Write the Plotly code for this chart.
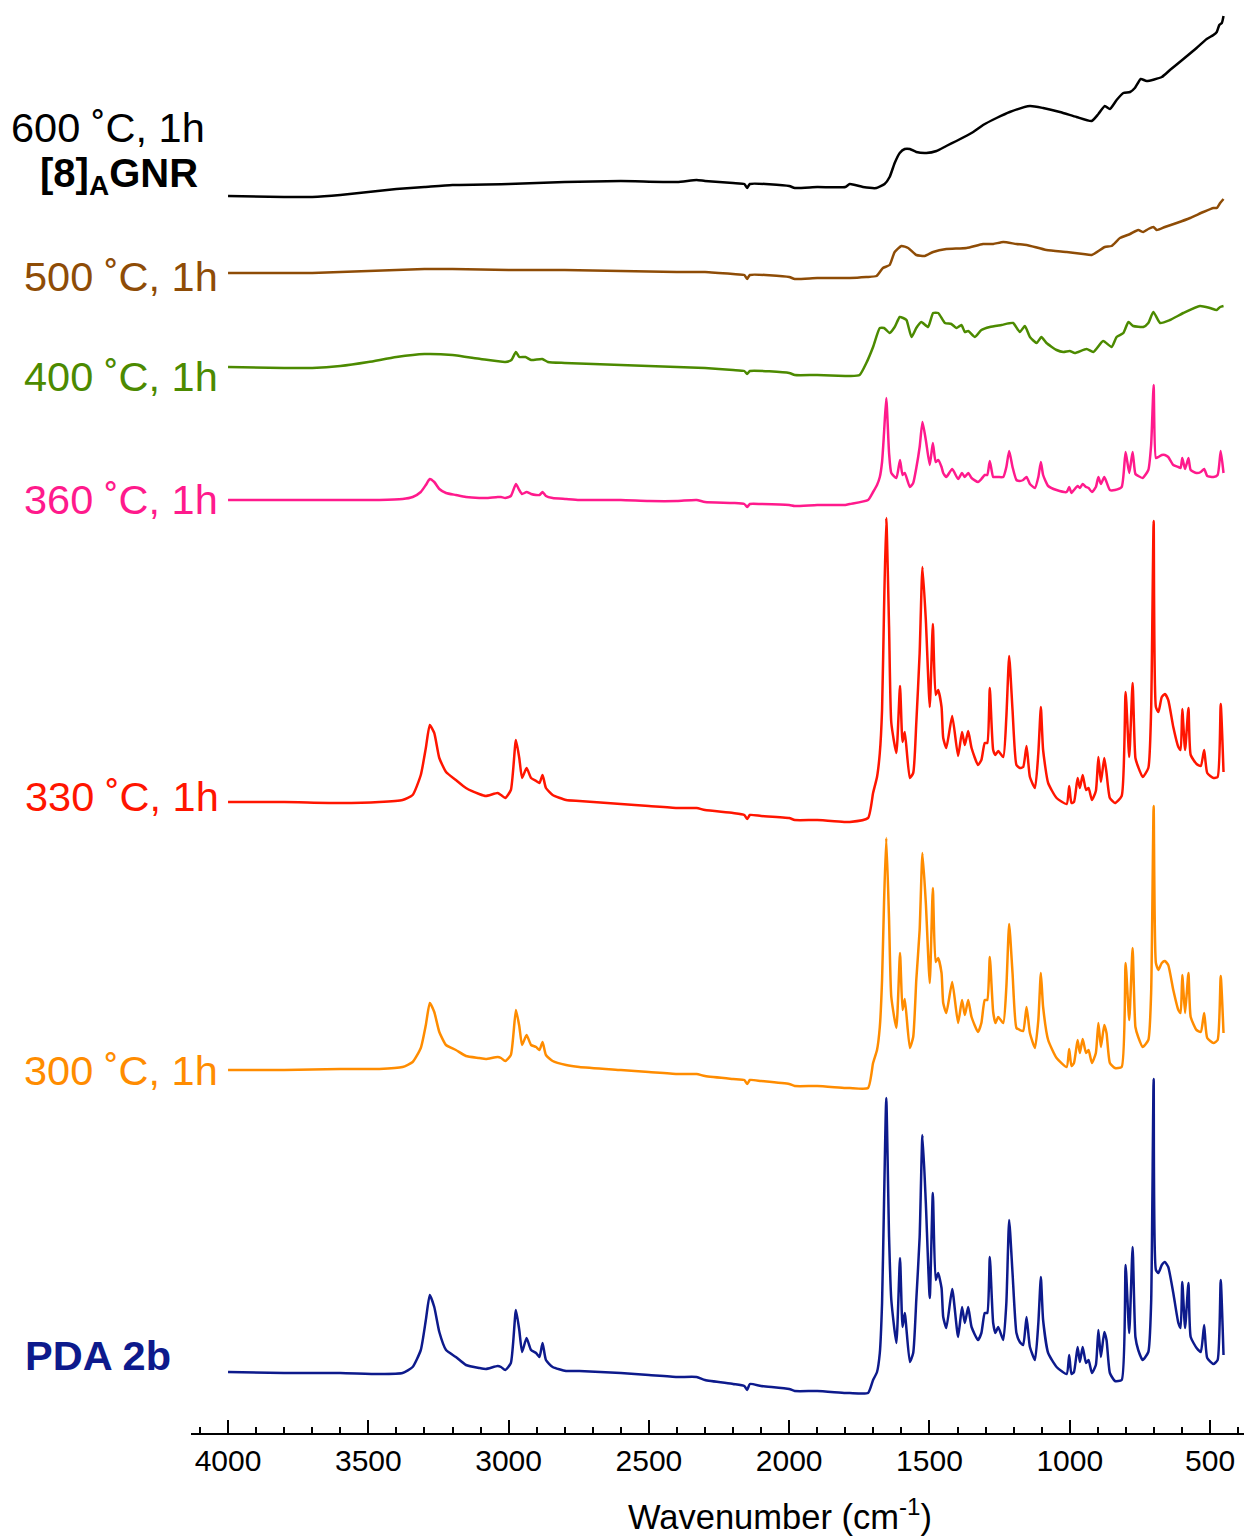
import plotly.graph_objects as go

# ---- shared wavenumber grid (cm-1) for the as-made and 300-360 C spectra ----
WN_SHARP = [4000, 3800, 3600, 3461, 3378, 3342, 3313, 3295, 3281, 3265,
            3247, 3223, 3188, 3152, 3105, 3081, 3039, 3027, 3012, 2992,
            2974, 2962, 2952, 2936, 2920, 2902, 2890, 2879, 2867, 2843,
            2795, 2748, 2600, 2500, 2400, 2330, 2300, 2200, 2160, 2150,
            2140, 2100, 2000, 1980, 1900, 1800,
            1784, 1719, 1701, 1687, 1677, 1669, 1662, 1654, 1644, 1636,
            1618, 1605, 1596, 1588, 1570, 1558, 1547, 1535, 1525, 1513,
            1499, 1488, 1478, 1469, 1457, 1451, 1440, 1419, 1398, 1384,
            1374, 1362, 1350, 1327, 1315, 1303, 1294, 1285, 1273, 1265,
            1255, 1237, 1226, 1216, 1204, 1190, 1178, 1166, 1154, 1142,
            1124, 1112, 1103, 1095, 1077, 1047, 1011, 1002, 994, 985,
            972, 964, 954, 942, 933, 921, 907, 898, 889, 877,
            869, 857, 839, 815, 801, 788, 776, 766, 756, 740,
            720, 710, 701, 693, 684, 672, 661, 649, 631, 613,
            605, 599, 589, 577, 569, 548, 533, 521, 510, 488,
            473, 462, 452]

# intensities (arb. units) on WN_SHARP
INT_PDA = [0, -1, -1, -2, -1, 5, 22, 52, 77, 65,
           40, 22, 15, 7, 4, 3, 6, 5, 2, 9,
           62, 42, 20, 34, 22, 19, 15, 29, 12, 5,
           1, 1, -1, -3, -5, -5, -8, -12, -14, -18,
           -12, -14, -17, -19, -19, -21,
           -21, -21, -8, 0, 19, 69, 169, 274, 135, 72,
           29, 114, 45, 59, 10, 19, 72, 135, 237, 169,
           74, 179, 92, 99, 84, 55, 44, 83, 35, 65,
           49, 65, 45, 32, 39, 59, 59, 115, 49, 39,
           45, 32, 69, 152, 99, 39, 30, 27, 55, 25,
           12, 49, 95, 52, 19, 5, -2, 17, -2, 0,
           25, 10, 25, 9, 12, -1, 7, 42, 15, 40,
           32, -1, -9, -8, 107, 39, 125, 35, 22, 12,
           20, 69, 293, 102, 99, 107, 110, 105, 79, 49,
           44, 90, 44, 89, 35, 24, 20, 47, 14, 8,
           12, 92, 17]

INT_300 = [0, 0, 1, 1, 3, 8, 22, 45, 67, 58,
           38, 25, 20, 14, 12, 11, 13, 12, 9, 15,
           60, 44, 25, 35, 25, 23, 20, 28, 15, 9,
           5, 3, 0, -2, -4, -4, -6, -9, -10, -14,
           -10, -11, -14, -16, -16, -18,
           -18, -18, 7, 20, 43, 90, 167, 232, 150, 73,
           42, 117, 60, 71, 22, 33, 90, 140, 217, 167,
           87, 182, 108, 112, 97, 67, 57, 88, 47, 70,
           55, 70, 53, 38, 47, 70, 70, 113, 58, 47,
           53, 47, 83, 146, 97, 42, 40, 39, 63, 37,
           22, 50, 97, 63, 30, 12, 3, 21, 4, 7,
           30, 17, 31, 17, 20, 7, 17, 47, 23, 45,
           37, 7, 2, 3, 107, 50, 122, 43, 33, 23,
           30, 77, 264, 107, 100, 107, 109, 105, 80, 60,
           57, 95, 57, 97, 53, 40, 38, 57, 32, 27,
           30, 94, 37]

INT_330 = [0, 0, -1, 0, 2, 7, 27, 54, 77, 69,
           44, 30, 22, 14, 8, 6, 9, 7, 4, 12,
           62, 44, 24, 34, 24, 21, 19, 27, 14, 7,
           2, 1, -2, -4, -6, -6, -8, -11, -13, -17,
           -13, -14, -16, -18, -18, -20,
           -20, -16, 9, 25, 49, 92, 192, 284, 175, 79,
           49, 116, 60, 70, 24, 29, 79, 149, 235, 182,
           95, 178, 107, 112, 95, 64, 54, 86, 46, 70,
           57, 71, 54, 37, 42, 59, 59, 114, 52, 47,
           51, 45, 85, 146, 92, 37, 34, 35, 56, 25,
           14, 49, 95, 52, 19, 4, -2, 16, -1, 0,
           24, 14, 27, 12, 14, 2, 11, 45, 20, 44,
           29, 4, -1, 6, 110, 45, 119, 44, 35, 25,
           34, 92, 281, 95, 90, 105, 108, 102, 75, 55,
           52, 93, 52, 94, 47, 38, 36, 52, 29, 24,
           25, 98, 30]

INT_360 = [0, 0, 0, 0, 1, 3, 8, 15, 21, 18,
           11, 7, 5, 3, 2, 2, 3, 3, 2, 4,
           16, 10, 6, 8, 6, 5, 5, 8, 4, 2,
           1, 0, 0, -1, -1, 0, -2, -3, -4, -7,
           -4, -4, -5, -6, -5, -5,
           -4, 0, 8, 15, 23, 38, 67, 102, 47, 27,
           22, 40, 25, 27, 13, 17, 32, 53, 78, 60,
           35, 57, 38, 40, 33, 27, 23, 31, 21, 27,
           23, 27, 22, 18, 21, 25, 25, 39, 23, 23,
           23, 23, 33, 49, 33, 20, 19, 20, 23, 16,
           12, 23, 38, 25, 14, 10, 8, 13, 7, 10,
           14, 12, 16, 13, 12, 8, 13, 23, 16, 23,
           18, 10, 10, 13, 48, 27, 48, 26, 24, 22,
           30, 55, 115, 42, 43, 45, 45, 43, 35, 33,
           32, 42, 31, 42, 30, 27, 28, 31, 24, 23,
           25, 49, 27]

# ---- 400 C ----
WN_400 = [4000, 3800, 3700, 3600, 3500, 3400, 3300, 3200, 3100, 3012,
          2990, 2974, 2962, 2940, 2920, 2880, 2860, 2800, 2600, 2400,
          2300, 2200, 2160, 2150, 2140, 2000, 1980, 1900, 1800,
          1784, 1749, 1725, 1701, 1677, 1662, 1642, 1624, 1606, 1594,
          1582, 1564, 1547, 1529, 1505, 1487, 1469, 1445, 1422, 1404,
          1386, 1374, 1362, 1338, 1315, 1285, 1243, 1202, 1178, 1160,
          1142, 1118, 1101, 1083, 1047, 1023, 1000, 982, 940, 916,
          881, 851, 833, 809, 791, 774, 738, 720, 702, 678,
          643, 595, 536, 500, 476, 464, 452]
INT_400 = [0, -1, -1, 1, 5, 10, 13, 12, 8, 5,
           7, 15, 10, 10, 7, 8, 5, 4, 2, 0,
           -1, -3, -4, -7, -4, -6, -8, -8, -9,
           -9, -8, 4, 20, 39, 39, 34, 40, 50, 49,
           47, 30, 39, 45, 40, 54, 54, 44, 43, 39,
           42, 35, 36, 30, 37, 40, 42, 44, 35, 41,
           30, 24, 30, 24, 17, 15, 16, 14, 18, 15,
           26, 20, 30, 34, 45, 41, 40, 44, 55, 44,
           47, 54, 61, 59, 57, 60, 61]

# ---- 500 C ----
WN_500 = [4000, 3800, 3700, 3600, 3500, 3400, 3300, 3200, 3000, 2800,
          2600, 2400, 2300, 2200, 2160, 2150, 2140, 2000, 1980, 1900, 1800,
          1784, 1725, 1689, 1666, 1642, 1624, 1600, 1576, 1547, 1517,
          1487, 1440, 1368, 1309, 1273, 1237, 1190, 1154, 1083, 1011,
          952, 922, 875, 851, 821, 785, 756, 738, 720, 702,
          690, 661, 619, 571, 524, 488, 476, 464, 452]
INT_500 = [0, 0, 0, 1, 2, 3, 4, 4, 3, 3,
           2, 1, 1, -1, -2, -6, -2, -4, -6, -5, -5,
           -5, -4, -3, 5, 8, 21, 27, 25, 18, 17,
           21, 24, 25, 29, 29, 31, 29, 28, 23, 21,
           19, 18, 26, 27, 35, 39, 43, 41, 44, 46,
           43, 46, 50, 55, 61, 65, 65, 70, 74]

# ---- 600 C, [8]AGNR ----
WN_600 = [4000, 3800, 3700, 3600, 3500, 3400, 3300, 3200, 3000, 2800,
          2600, 2400, 2330, 2300, 2200, 2160, 2150, 2140, 2000, 1980,
          1900, 1800,
          1784, 1737, 1689, 1660, 1642, 1624, 1606, 1588, 1570, 1547,
          1511, 1475, 1440, 1404, 1344, 1309, 1261, 1214, 1142, 1095,
          1035, 976, 922, 898, 875, 857, 833, 809, 785, 768,
          747, 726, 672, 643, 595, 548, 512, 488, 476, 467,
          458, 452]
INT_600 = [0, -1, -1, 1, 4, 7, 9, 11, 12, 14,
           15, 14, 16, 15, 13, 12, 8, 12, 10, 8,
           9, 9,
           12, 9, 8, 12, 19, 33, 43, 47, 47, 44,
           43, 45, 50, 55, 64, 71, 78, 84, 90, 88,
           84, 79, 75, 82, 90, 87, 96, 103, 104, 108,
           117, 115, 119, 126, 137, 148, 157, 161, 164, 171,
           173, 180]

# stacking order (bottom to top): label, colour, vertical offset
SERIES = [
    ("PDA 2b", WN_SHARP, INT_PDA, "#0D1A8C", 61),
    ("300 ˚C, 1h", WN_SHARP, INT_300, "#FF8C00", 363),
    ("330 ˚C, 1h", WN_SHARP, INT_330, "#FF1500", 631),
    ("360 ˚C, 1h", WN_SHARP, INT_360, "#FF1A8C", 933),
    ("400 ˚C, 1h", WN_400, INT_400, "#4C8A00", 1066),
    ("500 ˚C, 1h", WN_500, INT_500, "#8E4C06", 1160),
    ("600 ˚C, 1h", WN_600, INT_600, "#000000", 1237),
]

FONT = "Liberation Sans, Arial, Helvetica, sans-serif"
W, H = 1246, 1538
ML, MR, MT, MB = 191, 2, 0, 105
PW, PH = W - ML - MR, H - MT - MB

fig = go.Figure()
for name, wn, inten, color, off in SERIES:
    fig.add_trace(go.Scatter(
        x=wn, y=[off + v for v in inten], mode="lines", name=name,
        line=dict(color=color, width=2.5, shape="spline", smoothing=0.5),
        showlegend=False, hoverinfo="skip",
    ))


def px_x(px):
    return (px - ML) / PW


def px_y(py):
    return (H - MB - py) / PH


# curve labels: (text, right edge px, vertical centre px, colour, size)
LABELS = [
    ("600 ˚C, 1h", 207, 128, "#000000", 41.5),
    ("<b>[8]<sub>A</sub>GNR</b>", 200, 176, "#000000", 40),
    ("500 ˚C, 1h", 220, 276, "#8E4C06", 41.5),
    ("400 ˚C, 1h", 220, 376, "#4C8A00", 41.5),
    ("360 ˚C, 1h", 220, 499, "#FF1A8C", 41.5),
    ("330 ˚C, 1h", 221, 796, "#FF1500", 41.5),
    ("300 ˚C, 1h", 220, 1070, "#FF8C00", 41.5),
    ("<b>PDA 2b</b>", 173, 1355, "#0D1A8C", 41.5),
]
annotations = [
    dict(text=t, x=px_x(xr), y=px_y(yc), xref="paper", yref="paper",
         xanchor="right", yanchor="middle", showarrow=False,
         font=dict(family=FONT, size=s, color=c))
    for t, xr, yc, c, s in LABELS
]
annotations.append(dict(
    text="Wavenumber (cm<sup>-1</sup>)", x=px_x(780), y=px_y(1514),
    xref="paper", yref="paper", xanchor="center", yanchor="middle",
    showarrow=False, font=dict(family=FONT, size=34.5, color="#000000"),
))

fig.update_layout(
    width=W, height=H,
    margin=dict(l=ML, r=MR, t=MT, b=MB, pad=0),
    paper_bgcolor="white", plot_bgcolor="white",
    annotations=annotations,
    xaxis=dict(
        range=[4132, 379], showgrid=False, zeroline=False,
        showline=True, linecolor="black", linewidth=2,
        ticks="inside", ticklen=13, tickwidth=2, tickcolor="black",
        tickmode="array",
        tickvals=[4000, 3500, 3000, 2500, 2000, 1500, 1000, 500],
        ticktext=["4000", "3500", "3000", "2500", "2000", "1500", "1000", "500"],
        tickfont=dict(family=FONT, size=30, color="black"),
        minor=dict(tickmode="linear", tick0=0, dtick=100, ticks="inside",
                   ticklen=6, tickwidth=1.5, tickcolor="black", showgrid=False),
    ),
    yaxis=dict(range=[0, PH], visible=False, showgrid=False, zeroline=False),
)

fig.write_html("out.html")
